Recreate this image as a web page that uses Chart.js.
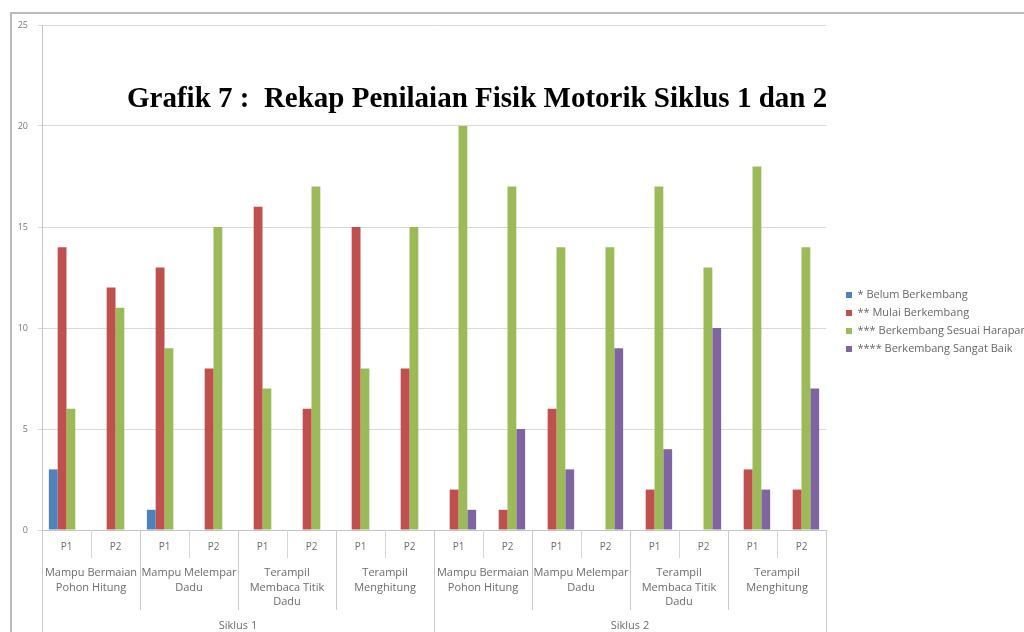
<!DOCTYPE html>
<html>
<head>
<meta charset="utf-8">
<title>Rekap Penilaian Fisik Motorik</title>
<script src="https://cdn.jsdelivr.net/npm/chart.js@4.4.1/dist/chart.umd.min.js"></script>
<style>
  html, body { margin: 0; padding: 0; background: #fff; overflow: hidden; }
  #wrap { position: relative; width: 1024px; height: 632px; overflow: hidden; }
  #chart { position: absolute; left: 0; top: 0; }
  #frame {
    position: absolute; left: 10px; top: 12px; right: -20px; bottom: -20px;
    border-left: 2px solid #b9b9b9; border-top: 2px solid #b9b9b9;
    pointer-events: none;
  }
  #title {
    position: absolute; left: 127px; top: 83px;
    font: bold 29px/29px "Liberation Serif", "Times New Roman", serif;
    color: #000; white-space: pre;
  }
</style>
</head>
<body>
<div id="wrap">
  <canvas id="chart" width="1024" height="632"></canvas>
  <div id="frame"></div>
  <div id="title">Grafik 7 :  Rekap Penilaian Fisik Motorik Siklus 1 dan 2</div>
</div>
<script>
// Meeting labels (first axis level)
const periods = ['P1', 'P2', 'P1', 'P2', 'P1', 'P2', 'P1', 'P2',
                 'P1', 'P2', 'P1', 'P2', 'P1', 'P2', 'P1', 'P2'];

// Skill labels (second axis level), one per pair of meetings
const skills = [
  ['Mampu Bermaian', 'Pohon Hitung'],
  ['Mampu Melempar', 'Dadu'],
  ['Terampil', 'Membaca Titik', 'Dadu'],
  ['Terampil', 'Menghitung'],
  ['Mampu Bermaian', 'Pohon Hitung'],
  ['Mampu Melempar', 'Dadu'],
  ['Terampil', 'Membaca Titik', 'Dadu'],
  ['Terampil', 'Menghitung']
];

// Cycle labels (third axis level)
const cycles = ['Siklus 1', 'Siklus 2'];

// Number of children per assessment level
const belumBerkembang  = [3, 0, 1, 0, 0, 0, 0, 0,   0, 0, 0, 0, 0, 0, 0, 0];
const mulaiBerkembang  = [14, 12, 13, 8, 16, 6, 15, 8,   2, 1, 6, 0, 2, 0, 3, 2];
const sesuaiHarapan    = [6, 11, 9, 15, 7, 17, 8, 15,   20, 17, 14, 14, 17, 13, 18, 14];
const sangatBaik       = [0, 0, 0, 0, 0, 0, 0, 0,   1, 5, 3, 9, 4, 10, 2, 7];

const seriesNames = [
  '* Belum Berkembang',
  '** Mulai Berkembang',
  '*** Berkembang Sesuai Harapan',
  '**** Berkembang Sangat Baik'
];

const yTicks = { min: 0, max: 25, step: 5 };

Chart.defaults.font.family = '"Open Sans", "Noto Sans", sans-serif';
Chart.defaults.color = '#6b6b6b';

// Vertical separators between the categories of each axis level
const axisDividers = {
  id: 'axisDividers',
  afterDraw(chart) {
    const { ctx } = chart;
    const { x, x2, x3 } = chart.scales;
    const bounds = (s) => {
      const out = [];
      for (let i = 1; i < s.ticks.length; i++) {
        out.push((s.getPixelForTick(i - 1) + s.getPixelForTick(i)) / 2);
      }
      return out;
    };
    const line = (px, y0, y1) => {
      const p = Math.round(px) + 0.5;
      ctx.beginPath();
      ctx.moveTo(p, y0);
      ctx.lineTo(p, y1);
      ctx.stroke();
    };
    ctx.save();
    ctx.lineWidth = 1;
    ctx.strokeStyle = '#d6d6d6';
    bounds(x).forEach(p => line(p, x.top, x.bottom));
    ctx.strokeStyle = '#cacaca';
    bounds(x2).forEach(p => line(p, x.top, x2.bottom));
    [x.left, ...bounds(x3), x.right].forEach(p => line(p, x.top, x3.bottom));
    ctx.restore();
  }
};

// Keeps a small gap between the plot and the legend column
const legendOffset = {
  id: 'legendOffset',
  afterLayout(chart) {
    const lg = chart.legend;
    if (!lg) return;
    lg.left += 13; lg.right += 13;
    lg.top -= 6.5; lg.bottom -= 6.5;
  }
};

new Chart(document.getElementById('chart'), {
  type: 'bar',
  data: {
    labels: periods,
    datasets: [
      { label: seriesNames[0], data: belumBerkembang, backgroundColor: '#4F81BD' },
      { label: seriesNames[1], data: mulaiBerkembang, backgroundColor: '#C0504D' },
      { label: seriesNames[2], data: sesuaiHarapan,   backgroundColor: '#9BBB59' },
      { label: seriesNames[3], data: sangatBaik,      backgroundColor: '#8064A2' }
    ]
  },
  options: {
    responsive: false,
    animation: false,
    events: [],
    layout: { padding: { left: 10, top: 25, right: 0, bottom: 0 } },
    datasets: { bar: { categoryPercentage: 0.72, barPercentage: 1.0 } },
    plugins: {
      legend: {
        position: 'right',
        maxWidth: 198,
        labels: {
          boxWidth: 6,
          boxHeight: 6,
          padding: 7,
          color: '#666',
          font: { size: 11 }
        }
      },
      tooltip: { enabled: false }
    },
    scales: {
      y: {
        min: yTicks.min,
        max: yTicks.max,
        ticks: { stepSize: yTicks.step, padding: 10, font: { size: 9 }, color: '#777' },
        grid: { color: '#d9d9d9', tickLength: 4 },
        border: { color: '#c4c4c4' },
        afterFit(s) { s.width = 32; }
      },
      x: {
        position: 'bottom',
        grid: { display: false, drawTicks: false },
        border: { color: '#c4c4c4' },
        ticks: { padding: 11, font: { size: 10 }, maxRotation: 0, autoSkip: false },
        afterFit(s) { s.height = 28; }
      },
      x2: {
        type: 'category',
        position: 'bottom',
        labels: skills,
        offset: true,
        grid: { display: false, drawTicks: false },
        border: { display: false },
        ticks: { padding: 8, font: { size: 11, lineHeight: 1.32 }, maxRotation: 0, autoSkip: false },
        afterFit(s) { s.height = 52; }
      },
      x3: {
        type: 'category',
        position: 'bottom',
        labels: cycles,
        offset: true,
        grid: { display: false, drawTicks: false },
        border: { display: false },
        ticks: { padding: 9, font: { size: 11 }, maxRotation: 0, autoSkip: false },
        afterFit(s) { s.height = 22; }
      }
    }
  },
  plugins: [axisDividers, legendOffset]
});
</script>
</body>
</html>
